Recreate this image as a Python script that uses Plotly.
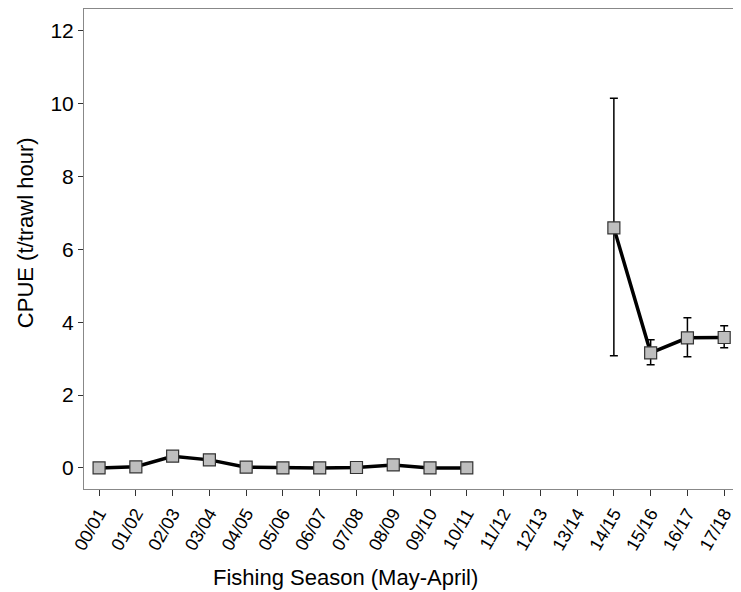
import plotly.graph_objects as go

seasons = ["00/01", "01/02", "02/03", "03/04", "04/05", "05/06", "06/07", "07/08", "08/09",
           "09/10", "10/11", "11/12", "12/13", "13/14", "14/15", "15/16", "16/17", "17/18"]
cpue = [0.0, 0.03, 0.32, 0.22, 0.02, 0.0, 0.0, 0.01, 0.08, 0.0, 0.0,
        None, None, None, 6.59, 3.16, 3.57, 3.58]
err_upper = [None] * 11 + [None, None, None, 10.15, 3.52, 4.12, 3.90]
err_lower = [None] * 11 + [None, None, None, 3.08, 2.83, 3.05, 3.30]

xpos = list(range(len(seasons)))
plus = [(u - v) if (u is not None and v is not None) else None for u, v in zip(err_upper, cpue)]
minus = [(v - l) if (l is not None and v is not None) else None for l, v in zip(err_lower, cpue)]

fig = go.Figure()
fig.add_trace(go.Scatter(
    x=xpos, y=cpue, mode="lines+markers",
    line=dict(color="black", width=3.5),
    marker=dict(symbol="square", size=12, color="#BEBEBE", line=dict(color="#333333", width=1.2)),
    error_y=dict(type="data", symmetric=False, array=plus, arrayminus=minus,
                 color="black", thickness=1.5, width=4),
    connectgaps=False, showlegend=False,
))

# the page body adds an 8px offset, so the figure is sized 8px smaller
fig.update_layout(
    width=733, height=584,
    margin=dict(l=76, r=1, t=1, b=103),
    paper_bgcolor="white", plot_bgcolor="white",
    font=dict(family="Liberation Sans, Arial, sans-serif", color="black"),
    xaxis=dict(
        range=[-0.41, 17.43], tickmode="array", tickvals=xpos, ticktext=seasons,
        tickangle=-60, tickfont=dict(size=18, color="black"),
        ticks="outside", ticklen=6, tickcolor="#333333",
        showgrid=False, zeroline=False, automargin=False,
        showline=True, linecolor="#888888", linewidth=1, mirror=True,
    ),
    yaxis=dict(
        range=[-0.58, 12.6], tickvals=[0, 2, 4, 6, 8, 10, 12],
        tickfont=dict(size=21, color="black"),
        ticks="outside", ticklen=5, tickcolor="#333333",
        showgrid=False, zeroline=False, automargin=False,
        showline=True, linecolor="#888888", linewidth=1, mirror=True,
    ),
    annotations=[
        dict(text="Fishing Season (May-April)", xref="paper", yref="paper",
             x=0.398, y=-0.185, xanchor="center", yanchor="middle", showarrow=False,
             font=dict(size=22, color="black")),
        dict(text="CPUE (t/trawl hour)", xref="paper", yref="paper",
             x=-0.09, y=0.535, xanchor="center", yanchor="middle", showarrow=False,
             textangle=-90, font=dict(size=22, color="black")),
    ],
)

fig.write_html("out.html")
